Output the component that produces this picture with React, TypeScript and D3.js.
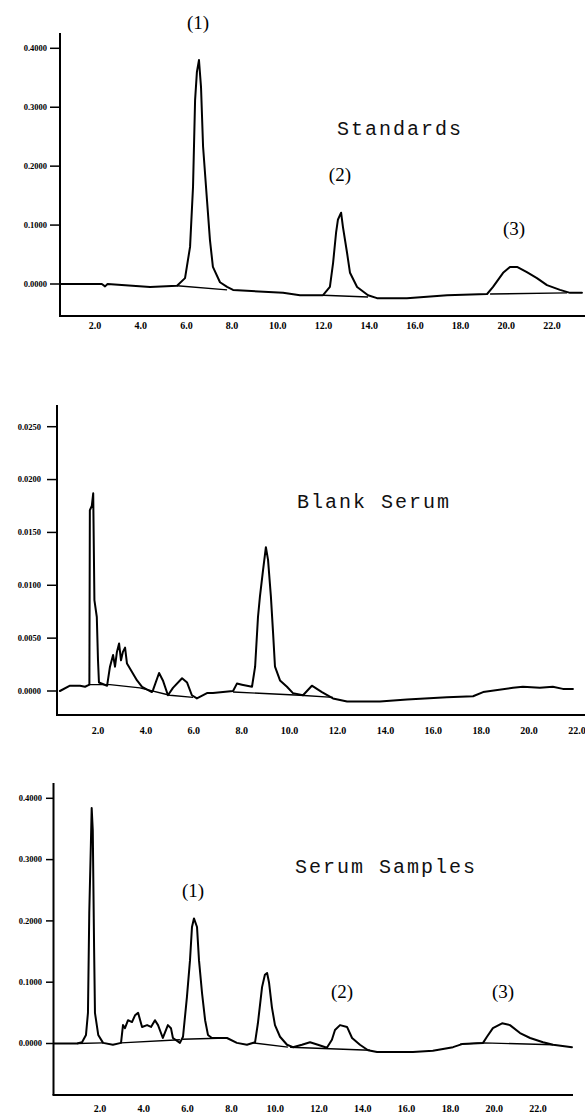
import React from "react";
import * as d3 from "d3";

// ---------- data ----------
const xTickValues = [2, 4, 6, 8, 10, 12, 14, 16, 18, 20, 22];
const xTickLabels = ["2.0", "4.0", "6.0", "8.0", "10.0", "12.0", "14.0", "16.0", "18.0", "20.0", "22.0"];

const stdYTicks = [0, 0.1, 0.2, 0.3, 0.4];
const stdYLabels = ["0.0000", "0.1000", "0.2000", "0.3000", "0.4000"];
const blankYTicks = [0, 0.005, 0.01, 0.015, 0.02, 0.025];
const blankYLabels = ["0.0000", "0.0050", "0.0100", "0.0150", "0.0200", "0.0250"];
const serumYTicks = [0, 0.1, 0.2, 0.3, 0.4];
const serumYLabels = ["0.0000", "0.1000", "0.2000", "0.3000", "0.4000"];

// Standards trace: [time (min), absorbance]
const stdTrace: [number, number][] = [
  [0.47, 0], [2.3, 0], [2.44, -0.004], [2.55, 0], [4.41, -0.005], [5.59, -0.003], [5.94, 0.01],
  [6.16, 0.063], [6.29, 0.165], [6.38, 0.312], [6.46, 0.36], [6.55, 0.38], [6.64, 0.334],
  [6.73, 0.233], [6.9, 0.143], [7.03, 0.075], [7.16, 0.029], [7.47, 0.003], [7.78, -0.005],
  [8.04, -0.01], [10.23, -0.015], [10.97, -0.019], [11.98, -0.019], [12.28, -0.005],
  [12.42, 0.036], [12.55, 0.087], [12.63, 0.109], [12.77, 0.121], [12.85, 0.097],
  [13.03, 0.053], [13.16, 0.019], [13.47, -0.005], [13.95, -0.019], [14.34, -0.024],
  [15.65, -0.024], [17.41, -0.019], [19.16, -0.017], [19.42, -0.005], [19.86, 0.019],
  [20.16, 0.029], [20.47, 0.029], [20.9, 0.02], [21.34, 0.01], [21.78, -0.002],
  [22.35, -0.01], [22.79, -0.015], [23.31, -0.015],
];
const stdBaselines: [number, number][][] = [
  [[5.59, -0.003], [7.78, -0.01]],
  [[11.98, -0.019], [13.95, -0.022]],
  [[19.29, -0.017], [22.66, -0.015]],
];

// Blank serum trace
const blankTrace: [number, number][] = [
  [0.41, 0], [0.83, 0.0005], [1.25, 0.0005], [1.46, 0.0004], [1.64, 0.0006], [1.66, 0.0171],
  [1.74, 0.0175], [1.8, 0.0187], [1.85, 0.0086], [1.95, 0.007], [2.0, 0.0029], [2.04, 0.0008],
  [2.38, 0.0005], [2.5, 0.0023], [2.63, 0.0034], [2.71, 0.0023], [2.79, 0.0037], [2.88, 0.0045],
  [2.96, 0.0029], [3.04, 0.0037], [3.13, 0.0041], [3.21, 0.0026], [3.42, 0.0018], [3.63, 0.001],
  [3.84, 0.0004], [4.25, -0.0001], [4.3, 0.0001], [4.55, 0.0017], [4.71, 0.001], [4.92, -0.0004],
  [5.13, 0.0003], [5.51, 0.0012], [5.72, 0.0008], [5.92, -0.0004], [6.13, -0.0007],
  [6.55, -0.0002], [6.8, -0.0002], [7.64, 0], [7.8, 0.0007], [8.01, 0.0006], [8.43, 0.0004],
  [8.56, 0.0023], [8.68, 0.007], [8.76, 0.0089], [8.89, 0.0114], [9.01, 0.0136], [9.1, 0.0124],
  [9.22, 0.0089], [9.31, 0.0055], [9.39, 0.0023], [9.6, 0.001], [9.89, 0.0004], [10.14, -0.0002],
  [10.56, -0.0004], [10.93, 0.0005], [11.35, -0.0001], [11.81, -0.0007], [12.4, -0.001],
  [13.77, -0.001], [14.9, -0.0008], [16.57, -0.0006], [17.66, -0.0005], [18.08, -0.0001],
  [19.33, 0.0003], [19.74, 0.0004], [20.45, 0.0003], [20.99, 0.0004], [21.41, 0.0002],
  [21.83, 0.0002],
];
const blankBaselines: [number, number][][] = [
  [[1.58, 0.0006], [2.5, 0.0006], [3.75, 0.0003], [5.0, -0.0004], [5.97, -0.0006]],
  [[7.64, -0.0001], [10.43, -0.0004], [11.81, -0.0006]],
];

// Serum samples trace
const serumTrace: [number, number][] = [
  [-0.1, 0], [0.95, 0], [1.18, 0.002], [1.36, 0.014], [1.45, 0.05], [1.51, 0.213], [1.58, 0.32],
  [1.62, 0.384], [1.67, 0.348], [1.73, 0.157], [1.77, 0.05], [1.92, 0.014], [2.14, 0.001],
  [2.59, -0.002], [2.96, 0.001], [3.05, 0.03], [3.14, 0.025], [3.28, 0.038], [3.46, 0.035],
  [3.6, 0.046], [3.74, 0.05], [3.92, 0.027], [4.15, 0.03], [4.33, 0.027], [4.51, 0.038],
  [4.65, 0.03], [4.87, 0.009], [5.1, 0.03], [5.24, 0.025], [5.33, 0.009], [5.65, 0.001],
  [5.79, 0.011], [5.97, 0.076], [6.11, 0.136], [6.2, 0.19], [6.29, 0.204], [6.43, 0.19],
  [6.52, 0.136], [6.66, 0.082], [6.8, 0.038], [6.93, 0.014], [7.11, 0.009], [7.8, 0.009],
  [8.25, 0.001], [8.71, -0.002], [9.08, 0.002], [9.21, 0.033], [9.4, 0.092], [9.53, 0.112],
  [9.63, 0.115], [9.72, 0.099], [9.85, 0.059], [9.99, 0.03], [10.22, 0.011], [10.54, -0.002],
  [10.81, -0.006], [11.22, -0.002], [11.59, 0.002], [11.95, -0.002], [12.36, -0.007],
  [12.59, 0.006], [12.73, 0.022], [12.96, 0.03], [13.28, 0.027], [13.51, 0.009],
  [13.87, -0.002], [14.24, -0.011], [14.65, -0.014], [16.29, -0.014], [17.2, -0.012],
  [18.12, -0.006], [18.53, -0.001], [19.49, 0.001], [19.67, 0.011], [19.94, 0.025],
  [20.36, 0.033], [20.72, 0.03], [21.18, 0.017], [21.64, 0.009], [22.23, 0.002],
  [22.69, -0.002], [23.55, -0.006],
];
const serumBaselines: [number, number][][] = [
  [[0.95, 0], [2.14, 0.001]],
  [[2.96, 0.001], [5.65, 0.006]],
  [[5.75, 0.007], [7.8, 0.009]],
  [[8.98, 0.001], [10.58, -0.006]],
  [[10.68, -0.006], [14.33, -0.011]],
  [[18.44, -0.001], [19.49, 0.001], [22.69, -0.002]],
];

// Peak annotations: label, time, absorbance
const stdPeakLabels = [
  { label: "(1)", t: 6.51, v: 0.433 },
  { label: "(2)", t: 12.72, v: 0.175 },
  { label: "(3)", t: 20.34, v: 0.083 },
];
const serumPeakLabels = [
  { label: "(1)", t: 6.25, v: 0.239 },
  { label: "(2)", t: 13.05, v: 0.074 },
  { label: "(3)", t: 20.4, v: 0.074 },
];

// ---------- layout ----------
type Panel = {
  title: string;
  titleX: number;
  titleY: number;
  xRange: [number, number];
  yDomain: [number, number];
  yRange: [number, number];
  axisX: number;
  axisTop: number;
  axisBottom: number;
  axisRight: number;
  tickLeft: number;
  labelRight: number;
  xLabelY: number;
  yTicks: number[];
  yLabels: string[];
  trace: [number, number][];
  baselines: [number, number][][];
  peaks: { label: string; t: number; v: number }[];
};

const panels: Panel[] = [
  {
    title: "Standards", titleX: 337, titleY: 135,
    xRange: [49.3, 552], yDomain: [0, 0.4], yRange: [284, 48.3],
    axisX: 60, axisTop: 33, axisBottom: 316, axisRight: 585, tickLeft: 50, labelRight: 47, xLabelY: 329,
    yTicks: stdYTicks, yLabels: stdYLabels, trace: stdTrace, baselines: stdBaselines, peaks: stdPeakLabels,
  },
  {
    title: "Blank Serum", titleX: 297, titleY: 508,
    xRange: [50.1, 577], yDomain: [0, 0.025], yRange: [691, 426.7],
    axisX: 57, axisTop: 405, axisBottom: 715, axisRight: 585, tickLeft: 47, labelRight: 41, xLabelY: 734,
    yTicks: blankYTicks, yLabels: blankYLabels, trace: blankTrace, baselines: blankBaselines, peaks: [],
  },
  {
    title: "Serum Samples", titleX: 295, titleY: 873,
    xRange: [56.2, 538], yDomain: [0, 0.4], yRange: [1043.5, 798.3],
    axisX: 53.5, axisTop: 783, axisBottom: 1095, axisRight: 573, tickLeft: 46, labelRight: 42, xLabelY: 1112,
    yTicks: serumYTicks, yLabels: serumYLabels, trace: serumTrace, baselines: serumBaselines, peaks: serumPeakLabels,
  },
];

function ChartPanel({ p }: { p: Panel }) {
  const x = d3.scaleLinear().domain([0, 22]).range(p.xRange);
  const y = d3.scaleLinear().domain(p.yDomain).range(p.yRange);
  const line = d3.line<[number, number]>().x((d) => x(d[0])).y((d) => y(d[1]));
  return (
    <g>
      {/* axes */}
      <line x1={p.axisX} x2={p.axisX} y1={p.axisTop} y2={p.axisBottom} stroke="#000" strokeWidth={2} />
      <line x1={p.axisX - 1} x2={p.axisRight} y1={p.axisBottom} y2={p.axisBottom} stroke="#000" strokeWidth={2.2} />
      {p.yTicks.map((v, i) => (
        <g key={i}>
          <line x1={p.tickLeft} x2={p.axisX} y1={y(v)} y2={y(v)} stroke="#000" strokeWidth={1.5} />
          <text x={p.labelRight} y={y(v)} dy="0.33em" textAnchor="end" fontFamily="Liberation Serif" fontWeight={700}
            fontSize={8.5} fill="#000">{p.yLabels[i]}</text>
        </g>
      ))}
      {xTickValues.map((t, i) => (
        <text key={i} x={x(t)} y={p.xLabelY} textAnchor="middle" fontFamily="Liberation Serif" fontWeight={700}
          fontSize={10} fill="#000">{xTickLabels[i]}</text>
      ))}
      {/* baselines */}
      {p.baselines.map((b, i) => (
        <path key={i} d={line(b) || ""} fill="none" stroke="#000" strokeWidth={1.4} strokeLinejoin="round" />
      ))}
      {/* trace */}
      <path d={line(p.trace) || ""} fill="none" stroke="#000" strokeWidth={2} strokeLinejoin="round" strokeLinecap="round" />
      {/* title */}
      <text x={p.titleX} y={p.titleY} fontFamily="Liberation Mono" fontSize={20} letterSpacing={2} fill="#111">{p.title}</text>
      {p.peaks.map((pk, i) => (
        <text key={i} x={x(pk.t)} y={y(pk.v)} textAnchor="middle" fontFamily="Liberation Serif" fontSize={19} fill="#000">{pk.label}</text>
      ))}
    </g>
  );
}

export default function App() {
  return (
    <svg width={585} height={1118} viewBox="0 0 585 1118"
      style={{ position: "absolute", left: 0, top: 0, display: "block", background: "#fff" }}>
      <rect x={0} y={0} width={585} height={1118} fill="#fff" />
      {panels.map((p, i) => <ChartPanel key={i} p={p} />)}
    </svg>
  );
}
